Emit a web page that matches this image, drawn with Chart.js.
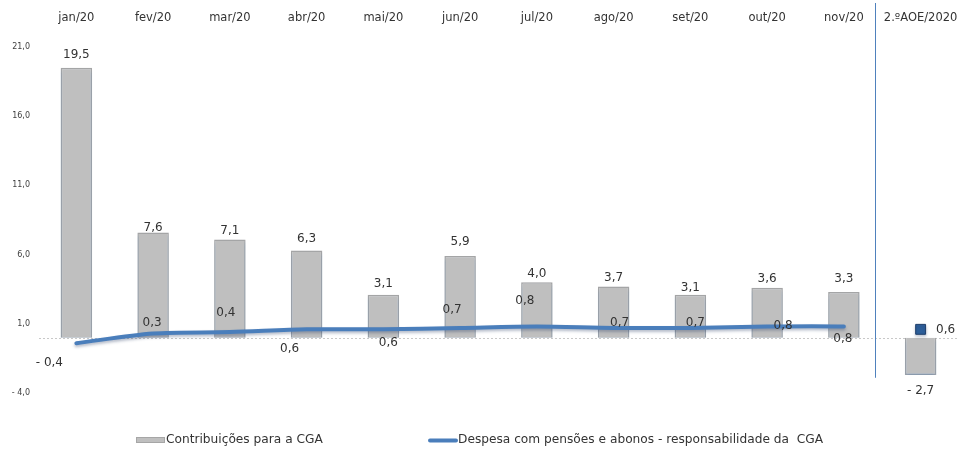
<!DOCTYPE html>
<html>
<head>
<meta charset="utf-8">
<script src="https://cdn.jsdelivr.net/npm/chart.js@4/dist/chart.umd.min.js"></script>
<style>
html,body{margin:0;padding:0;background:#fff;overflow:hidden;}
#wrap{width:960px;height:450px;}
canvas{display:block;}
</style>
</head>
<body>
<div id="wrap"><canvas id="c" width="960" height="450"></canvas></div>
<script>
const categories = ['jan/20','fev/20','mar/20','abr/20','mai/20','jun/20','jul/20','ago/20','set/20','out/20','nov/20','2.ºAOE/2020'];
const contribuicoes = [19.5, 7.6, 7.1, 6.3, 3.1, 5.9, 4.0, 3.7, 3.1, 3.6, 3.3, -2.7];
const despesa = [-0.4, 0.3, 0.4, 0.6, 0.6, 0.7, 0.8, 0.7, 0.7, 0.8, 0.8, 0.6];
const seriesNames = ['Contribuições para a CGA', 'Despesa com pensões e abonos - responsabilidade da  CGA'];
const yTicks = [-4, 1, 6, 11, 16, 21];

// label placement (style only)
const lineLabelOffsets = [[-27,20],[-1,-11],[-4,-19],[-17,20],[5,14],[-8,-18],[-12,-26],[6,-5],[5,-5],[16,-1],[-1,12],[25,1]];
const barLabelGaps = [13,5,9,12,11,14,8,9,7,9,13,16];

const BLUE = '#4a7ebb';
const FONT = '"DejaVu Sans", sans-serif';
const TXT = '#333333';

function fmt(v){
  const s = Math.abs(v).toFixed(1).replace('.', ',');
  return v < 0 ? '- ' + s : s;
}

const shadowPlugin = {
  id: 'shadows',
  beforeDatasetDraw(chart, args){
    const ctx = chart.ctx;
    ctx.save();
    if (args.index === 0) {
      ctx.shadowColor = 'rgba(79,129,189,0.35)';
      ctx.shadowBlur = 4;
      ctx.shadowOffsetY = 3;
    } else {
      ctx.shadowColor = 'rgba(40,60,100,0.35)';
      ctx.shadowBlur = 3;
      ctx.shadowOffsetY = 2;
    }
  },
  afterDatasetDraw(chart){
    chart.ctx.restore();
  }
};

const decoPlugin = {
  id: 'deco',
  beforeDatasetsDraw(chart){
    const {ctx, scales:{x, y}} = chart;
    const y0 = y.getPixelForValue(0);
    ctx.save();
    ctx.strokeStyle = '#c8c8c8';
    ctx.lineWidth = 1;
    ctx.setLineDash([2,2]);
    ctx.beginPath();
    ctx.moveTo(chart.chartArea.left + 1, Math.round(y0) + 0.5);
    ctx.lineTo(chart.chartArea.right, Math.round(y0) + 0.5);
    ctx.stroke();
    ctx.setLineDash([]);
    // separator between monthly values and annual estimate
    const p10 = x.getPixelForValue(10), p11 = x.getPixelForValue(11);
    const sx = Math.round(p10 + (p11 - p10) * 0.41) + 0.5;
    ctx.strokeStyle = '#4f81bd';
    ctx.lineWidth = 1;
    ctx.beginPath();
    ctx.moveTo(sx, 3);
    ctx.lineTo(sx, y.getPixelForValue(-2.9));
    ctx.stroke();
    ctx.restore();
  },
  afterDraw(chart){
    const {ctx} = chart;
    const barMeta = chart.getDatasetMeta(0);
    const lineMeta = chart.getDatasetMeta(1);
    ctx.save();
    ctx.font = '12px ' + FONT;
    ctx.fillStyle = TXT;
    ctx.textAlign = 'center';
    ctx.textBaseline = 'middle';
    barMeta.data.forEach((bar, i) => {
      const v = contribuicoes[i];
      const yy = v >= 0 ? bar.y - barLabelGaps[i] : bar.y + barLabelGaps[i];
      ctx.fillText(fmt(v), bar.x, yy);
    });
    lineMeta.data.forEach((pt, i) => {
      const o = lineLabelOffsets[i];
      ctx.fillText(fmt(despesa[i]), pt.x + o[0], pt.y + o[1]);
    });
    // legend
    ctx.font = '12.2px ' + FONT;
    ctx.textAlign = 'left';
    const ly = 440;
    ctx.fillStyle = '#bfbfbf';
    ctx.fillRect(136, ly - 3, 29, 6);
    ctx.strokeStyle = '#a6a6a6';
    ctx.lineWidth = 1;
    ctx.strokeRect(136.5, ly - 2.5, 28, 5);
    ctx.fillStyle = TXT;
    ctx.fillText(seriesNames[0], 166, ly);
    ctx.strokeStyle = BLUE;
    ctx.lineWidth = 4;
    ctx.lineCap = 'round';
    ctx.beginPath();
    ctx.moveTo(430, ly + 0.5);
    ctx.lineTo(456, ly + 0.5);
    ctx.stroke();
    ctx.fillText(seriesNames[1], 458, ly);
    ctx.restore();
  }
};

new Chart(document.getElementById('c'), {
  data: {
    labels: categories,
    datasets: [
      {
        type: 'bar',
        label: seriesNames[0],
        data: contribuicoes,
        backgroundColor: '#bfbfbf',
        borderColor: '#a6a6a6',
        borderWidth: 1.5,
        barPercentage: 0.41,
        categoryPercentage: 1,
        order: 2
      },
      {
        type: 'line',
        label: seriesNames[1],
        data: despesa,
        borderColor: BLUE,
        borderWidth: 4,
        tension: 0.3,
        borderCapStyle: 'round',
        segment: {
          borderColor: ctx => ctx.p1DataIndex === categories.length - 1 ? 'rgba(0,0,0,0)' : BLUE
        },
        pointStyle: 'rect',
        pointRadius: ctx => ctx.dataIndex === categories.length - 1 ? 7 : 0,
        pointBackgroundColor: '#2d5f9a',
        pointBorderColor: '#1f3f6b',
        pointBorderWidth: 1,
        order: 1
      }
    ]
  },
  options: {
    responsive: false,
    animation: false,
    layout: { autoPadding: false, padding: { top: 0, left: 0, right: 1, bottom: 57 } },
    plugins: {
      legend: { display: false },
      tooltip: { enabled: false }
    },
    scales: {
      x: {
        position: 'top',
        grid: { display: false, drawTicks: false },
        border: { display: false },
        ticks: { font: { family: FONT, size: 11.5 }, color: TXT, padding: 22, maxRotation: 0, autoSkip: false },
        afterFit(s){ s.height = 47; s.paddingLeft = 0; s.paddingRight = 0; }
      },
      y: {
        min: -4,
        max: 21,
        afterBuildTicks(s){ s.ticks = yTicks.map(v => ({ value: v })); },
        grid: { display: false, drawTicks: false },
        border: { display: false },
        ticks: { font: { family: FONT, size: 8 }, color: '#404040', padding: 8, callback: v => fmt(v) },
        afterFit(s){ s.width = 38; s.paddingTop = 0; s.paddingBottom = 0; }
      }
    }
  },
  plugins: [shadowPlugin, decoPlugin]
});
</script>
</body>
</html>
